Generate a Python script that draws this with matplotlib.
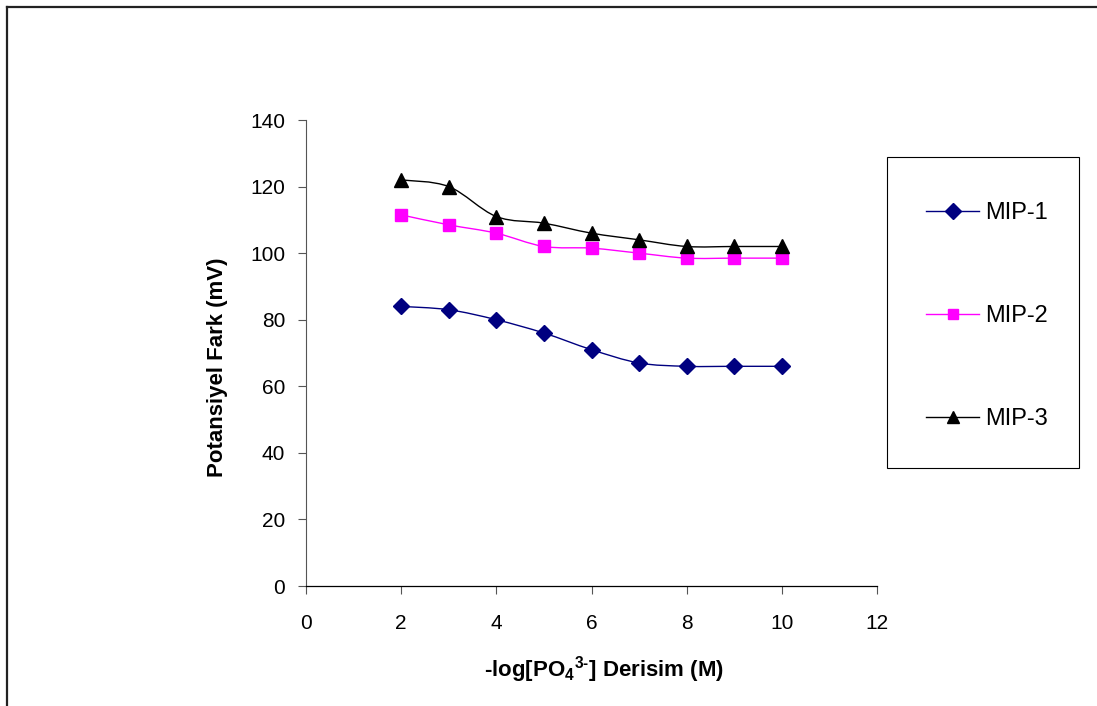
import numpy as np
import matplotlib
matplotlib.use("Agg")
import matplotlib.pyplot as plt
from matplotlib.path import Path
from matplotlib.patches import PathPatch, Rectangle
from matplotlib.lines import Line2D

plt.rcParams['font.family'] = ['Liberation Sans', 'DejaVu Sans']
plt.rcParams['mathtext.fontset'] = 'custom'
plt.rcParams['mathtext.rm'] = 'Liberation Sans:bold'
plt.rcParams['mathtext.it'] = 'Liberation Sans:bold'
plt.rcParams['mathtext.bf'] = 'Liberation Sans:bold'

# -log[PO4 3-] concentration values
concentration = [2, 3, 4, 5, 6, 7, 8, 9, 10]
mip1 = [84, 83, 80, 76, 71, 67, 66, 66, 66]
mip2 = [111.5, 108.5, 106, 102, 101.5, 100, 98.5, 98.5, 98.5]
mip3 = [122, 120, 111, 109, 106, 104, 102, 102, 102]
series_names = ["MIP-1", "MIP-2", "MIP-3"]

x_ticks = [0, 2, 4, 6, 8, 10, 12]
y_ticks = [0, 20, 40, 60, 80, 100, 120, 140]


def smooth_path(xs, ys):
    """Cubic Bezier path through the points (Catmull-Rom style smoothing)."""
    p = np.column_stack([xs, ys]).astype(float)
    n = len(p)
    verts = [p[0]]
    codes = [Path.MOVETO]
    for i in range(n - 1):
        p0 = p[i - 1] if i > 0 else p[i]
        p1 = p[i]
        p2 = p[i + 1]
        p3 = p[i + 2] if i + 2 < n else p[i + 1]
        c1 = p1 + (p2 - p0) / 6.0
        c2 = p2 - (p3 - p1) / 6.0
        verts += [c1, c2, p2]
        codes += [Path.CURVE4] * 3
    return Path(verts, codes)


W, H = 1097, 706
fig = plt.figure(figsize=(W / 100, H / 100), dpi=100)
fig.patch.set_facecolor("white")

ax = fig.add_axes([306 / W, 1 - 586 / H, 571 / W, 466 / H])

styles = [
    dict(color="#000080", marker="D", ms=8.5),
    dict(color="#FF00FF", marker="s", ms=8.5),
    dict(color="#000000", marker="^", ms=10),
]

handles = []
for ys, name, st in zip([mip1, mip2, mip3], series_names, styles):
    patch = PathPatch(smooth_path(concentration, ys), facecolor="none",
                      edgecolor=st["color"], lw=1.0, zorder=2)
    ax.add_patch(patch)
    ax.plot(concentration, ys, linestyle="none", marker=st["marker"],
            ms=st["ms"], mfc=st["color"], mec=st["color"], zorder=3)
    handles.append(Line2D([], [], color=st["color"], lw=1.0,
                          marker=st["marker"], ms=st["ms"] * 0.9,
                          mfc=st["color"], mec=st["color"], label=name))

ax.set_xlim(0, 12)
ax.set_ylim(0, 140)
ax.set_xticks(x_ticks)
ax.set_yticks(y_ticks)
ax.tick_params(axis="both", direction="out", length=6, width=0.8,
               color="#555555", labelsize=15)
ax.tick_params(axis="x", pad=14)
ax.tick_params(axis="y", pad=9)
for side in ["top", "right"]:
    ax.spines[side].set_visible(False)
ax.spines["left"].set_color("#555555")
ax.spines["bottom"].set_color("#000000")
ax.spines["left"].set_linewidth(0.8)
ax.spines["bottom"].set_linewidth(0.9)

ax.set_xlabel(r"-log[PO$_4$$^{3\text{-}}$] Derisim (M)", fontsize=16,
              fontweight="bold", labelpad=15)
ax.set_ylabel("Potansiyel Fark (mV)", fontsize=16, fontweight="bold",
              labelpad=16)
ax.xaxis.label.set_x(0.522)
ax.yaxis.label.set_y(0.47)

# legend panel: a framed box with the entries placed inside it
fig.add_artist(Rectangle((887 / W, 1 - 468 / H), 192 / W, 311 / H,
                         transform=fig.transFigure, facecolor="white",
                         edgecolor="#000000", lw=0.8, zorder=4))
leg = fig.legend(handles=handles, loc="upper left",
                 bbox_to_anchor=(926 / W, 1 - 202 / H),
                 frameon=False, fontsize=17, handlelength=2.25,
                 handletextpad=0.25, labelspacing=3.43, borderpad=0.0,
                 borderaxespad=0.0)
leg.set_zorder(5)

# outer chart border (top and left edges visible)
fig.add_artist(Line2D([7 / W, 1.0], [1 - 6.5 / H, 1 - 6.5 / H],
                      color="#222222", lw=1.6, transform=fig.transFigure))
fig.add_artist(Line2D([7 / W, 7 / W], [1 - 6.5 / H, 0.0],
                      color="#222222", lw=1.6, transform=fig.transFigure))

fig.savefig("out.png", dpi=100)
